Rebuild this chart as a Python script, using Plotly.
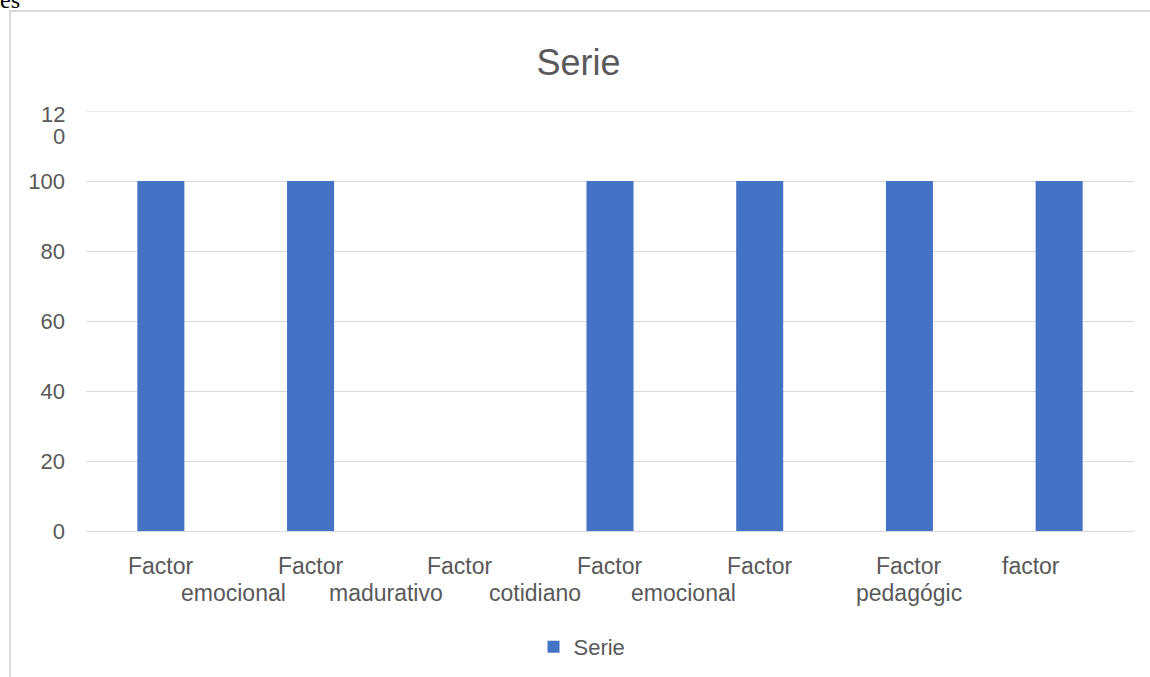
import plotly.graph_objects as go

# ---- data ----
categories_line1 = ["Factor", "Factor", "Factor", "Factor", "Factor", "Factor", "factor"]
categories_line2 = ["emocional", "madurativo", "cotidiano", "emocional", "", "pedagógic", ""]
values = [100, 100, 0, 100, 100, 100, 100]
series_name = "Serie"
y_tickvals = [0, 20, 40, 60, 80, 100, 120]
y_ticktext = ["0", "20", "40", "60", "80", "100", ""]
top_label_lines = ["12", "0"]   # the wrapped "120" tick label

# ---- style ----
line1_shift = [0, 0, 0, 0, 0, 0, -28]
line2_shift = [73, 75, 75, 73, 0, 0, 0]
FONT = "Liberation Sans, Arial, sans-serif"
GRAY = "#595959"
GRID = "#d9d9d9"
BAR = "#4472C4"

W, H = 1150, 677
L, R, T, B = 86, 16, 111, 146
pw, ph = W - L - R, H - T - B

def px_x(px):
    return (px - L) / pw

def px_y(py):
    return (H - B - py) / ph

xs = list(range(len(values)))

fig = go.Figure()
fig.add_trace(go.Bar(x=xs, y=values, name=series_name, marker_color=BAR,
                     marker_line_width=0))

annotations = []
for i, (a, b) in enumerate(zip(categories_line1, categories_line2)):
    annotations.append(dict(x=xs[i], xref="x", y=0, yref="paper", yanchor="middle",
                            yshift=-35, xshift=line1_shift[i], text=a, showarrow=False,
                            font=dict(family=FONT, size=23, color=GRAY)))
    if b:
        annotations.append(dict(x=xs[i], xref="x", y=0, yref="paper", yanchor="middle",
                                yshift=-62, xshift=line2_shift[i], text=b, showarrow=False,
                                font=dict(family=FONT, size=23, color=GRAY)))

# wrapped top tick label, anchored to the 120 tick
for k, t in enumerate(top_label_lines):
    annotations.append(dict(x=px_x(67), xref="paper", xanchor="right",
                            y=y_tickvals[-1], yref="y", yanchor="middle",
                            yshift=-3 - 22 * k, text=t, showarrow=False,
                            font=dict(family=FONT, size=22, color=GRAY)))

annotations.append(dict(x=px_x(-2), xref="paper", xanchor="left", y=px_y(0), yref="paper",
                        yanchor="middle", text="es", showarrow=False,
                        font=dict(family="Liberation Serif, Times New Roman, serif",
                                  size=24, color="black")))

fig.update_layout(
    width=W, height=H, autosize=False,
    margin=dict(l=L, r=R, t=T, b=B, pad=0, autoexpand=False),
    paper_bgcolor="white", plot_bgcolor="white",
    bargap=0.686,
    title=dict(text="Serie", x=0.503, xref="container", xanchor="center",
               y=1 - 62 / H, yref="container", yanchor="middle",
               font=dict(family=FONT, size=36, color=GRAY)),
    showlegend=True,
    legend=dict(orientation="h", x=px_x(582), xref="paper", xanchor="center",
                y=px_y(647), yref="paper", yanchor="middle",
                font=dict(family=FONT, size=22, color=GRAY)),
    annotations=annotations,
    shapes=[
        dict(type="rect", xref="paper", yref="paper",
             x0=px_x(10), x1=px_x(1200), y0=px_y(720), y1=px_y(11),
             line=dict(color=GRID, width=2), layer="below"),
        dict(type="line", xref="paper", yref="y", x0=0, x1=1,
             y0=y_tickvals[-1], y1=y_tickvals[-1],
             line=dict(color=GRID, width=1), layer="below"),
    ],
)
fig.update_xaxes(range=[-0.5, len(values) - 0.5], showticklabels=False,
                 showgrid=False, zeroline=False, showline=False, fixedrange=True,
                 automargin=False)
fig.update_yaxes(range=[0, 120], tickvals=y_tickvals, ticktext=y_ticktext,
                 showgrid=True, gridcolor=GRID, gridwidth=1, zeroline=True,
                 zerolinecolor=GRID, zerolinewidth=1, showline=False,
                 ticks="", ticklabelstandoff=20, automargin=False, fixedrange=True,
                 tickfont=dict(family=FONT, size=22, color=GRAY))

fig.write_html("out.html", config={"displayModeBar": False},
               post_script="document.body.style.margin='0';document.body.style.overflow='hidden';")
